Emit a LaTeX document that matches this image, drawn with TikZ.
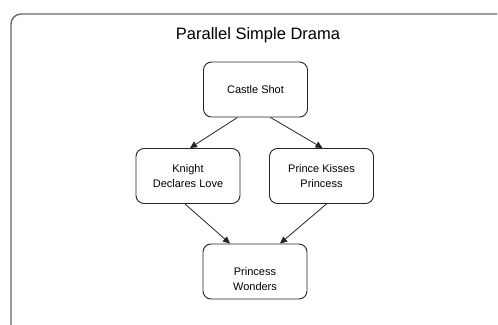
\documentclass[tikz,border=0pt]{standalone}
\usepackage{fontspec}
\setmainfont{Liberation Sans}
\usetikzlibrary{arrows.meta,calc}
\begin{document}
\begin{tikzpicture}[x=1pt,y=-1pt,
  scenebox/.style={draw=black!85,line width=0.9pt,rounded corners=8pt,minimum width=104pt,minimum height=55pt,align=center,font=\fontsize{11}{15}\selectfont,inner sep=2pt},
  scenetext/.style={align=center,font=\fontsize{11}{15}\selectfont,inner sep=0pt},
  flow/.style={draw=black!85,line width=0.8pt,-{Triangle[length=7pt,width=6.5pt]}}]
\useasboundingbox (0,0) rectangle (498,324);
\draw[draw=black!60,line width=1.4pt,rounded corners=10pt] (11,330) -- (11,14) -- (497,14);
\node[font=\fontsize{16.5}{19}\selectfont] (title) at (258,35) {Parallel Simple Drama};
\node[scenebox] (castle) at (255.5,89.5) {Castle Shot};
\node[scenebox] (knight) at (188,176) {Knight\\Declares Love};
\node[scenebox] (prince) at (321.5,176) {Prince Kisses\\Princess};
\node[scenebox] (wonders) at (255,271.5) {};
\node[scenetext] (wonderstext) at (255,279) {Princess\\Wonders};
\draw[flow] ($(castle.south)+(-18,0)$) -- ($(knight.north)+(2,0)$);
\draw[flow] ($(castle.south)+(15,0)$) -- ($(prince.north)+(1,0)$);
\draw[flow] ($(knight.south)+(-3,0)$) -- ($(wonders.north)+(-25,0)$);
\draw[flow] ($(prince.south)+(5,0)$) -- ($(wonders.north)+(25,0)$);
\end{tikzpicture}
\end{document}
